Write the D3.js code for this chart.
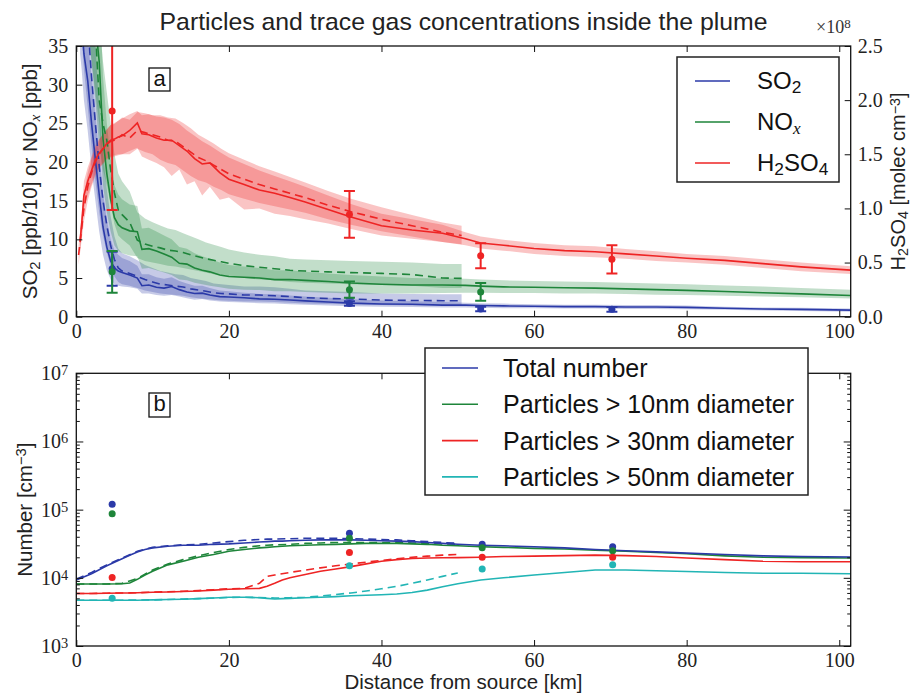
<!DOCTYPE html>
<html>
<head>
<meta charset="utf-8">
<script src="https://cdn.jsdelivr.net/npm/d3@7"></script>
<style>
	body { margin: 0; background: #fff; }
	svg { display: block; }
</style>
</head>
<body>
<svg id="chart" width="914" height="696"></svg>
<script>

// ---- Data: panel a (SO2 in ppb/10, NOx in ppb, H2SO4 in 1e8 molec cm-3) ----
var kmRun = [0.5, 0.7, 1, 1.5, 2, 2.5, 3, 3.5, 4, 4.5, 5, 5.5, 6, 7, 8, 8.6, 9.5, 10.5, 11.5, 12.5, 13.5, 14.5, 15.5, 16.5, 17.5, 18.8, 20, 22, 24, 26, 28, 30, 33, 36, 40, 44, 48, 51, 53, 56, 60, 64, 68, 72, 76, 80, 85, 90, 95, 101.5];
var kmAlt = [0.3, 1, 1.5, 2, 2.5, 3, 3.5, 4, 4.5, 5, 5.5, 6, 7, 8, 9, 10, 11, 12, 13, 14, 15, 16, 17, 18, 19, 20, 22, 24, 26, 28, 30, 33, 36, 40, 44, 48, 50.5];

var so2Run   = [42, 38, 34, 30.5, 25, 20.3, 15.8, 11.6, 9.0, 7.2, 6.3, 5.9, 5.7, 5.4, 5.0, 4.0, 4.1, 3.8, 3.7, 3.9, 3.5, 3.2, 3.0, 3.05, 2.8, 2.6, 2.55, 2.45, 2.3, 2.25, 2.15, 2.05, 1.9, 1.75, 1.65, 1.6, 1.5, 1.5, 1.45, 1.4, 1.35, 1.3, 1.3, 1.25, 1.25, 1.2, 1.1, 1.0, 0.95, 0.85];
var so2RunLo = [34, 32, 28, 24, 19, 15, 11, 8, 6, 4.8, 4.2, 4.0, 3.9, 3.8, 3.6, 3.0, 3.0, 2.8, 2.7, 2.8, 2.6, 2.4, 2.2, 2.3, 2.1, 1.95, 1.9, 1.85, 1.75, 1.7, 1.6, 1.55, 1.45, 1.35, 1.3, 1.25, 1.2, 1.2, 1.15, 1.1, 1.1, 1.05, 1.05, 1.0, 1.0, 0.95, 0.9, 0.8, 0.75, 0.65];
var so2RunHi = [56, 45, 40, 36, 31, 26, 21, 16, 12.5, 10, 8.6, 8.0, 7.6, 7.2, 6.6, 5.5, 5.5, 5.1, 4.9, 5.1, 4.6, 4.3, 4.0, 4.0, 3.7, 3.4, 3.3, 3.1, 2.95, 2.9, 2.75, 2.6, 2.45, 2.25, 2.1, 2.0, 1.9, 1.8, 1.75, 1.7, 1.6, 1.55, 1.55, 1.5, 1.5, 1.45, 1.3, 1.2, 1.15, 1.05];
var so2Alt   = [60, 45, 38, 31, 25, 19.5, 15, 11.8, 9.2, 7.4, 6.3, 5.9, 5.6, 5.2, 4.8, 4.5, 4.2, 4.1, 3.95, 3.85, 3.6, 3.45, 3.3, 3.1, 3.0, 2.95, 2.8, 2.8, 2.7, 2.6, 2.45, 2.35, 2.3, 2.15, 2.1, 2.07, 2.05];
var so2AltLo = [42, 32, 27, 22, 17.5, 13.5, 10.5, 8.3, 6.5, 5.2, 4.5, 4.2, 4.0, 3.7, 3.4, 3.2, 3.0, 2.9, 2.8, 2.7, 2.5, 2.4, 2.3, 2.2, 2.1, 2.05, 1.95, 1.95, 1.9, 1.8, 1.7, 1.65, 1.6, 1.5, 1.45, 1.45, 1.4];
var so2AltHi = [80, 62, 52, 43, 35, 27, 21, 16.5, 13, 10.4, 8.8, 8.2, 7.8, 7.3, 6.7, 6.3, 5.9, 5.7, 5.5, 5.4, 5.0, 4.8, 4.6, 4.3, 4.2, 4.1, 3.9, 3.9, 3.8, 3.6, 3.4, 3.3, 3.2, 3.0, 2.95, 2.9, 2.9];

var noxRun   = [60, 58, 55, 48, 42, 38, 33, 23, 18.5, 15.2, 12.8, 11.9, 11.5, 11.1, 11.0, 8.7, 8.8, 8.5, 8.1, 7.7, 6.9, 6.8, 6.3, 6.0, 5.8, 5.4, 5.2, 5.1, 5.0, 4.8, 4.8, 4.7, 4.55, 4.35, 4.2, 4.1, 4.1, 4.05, 3.95, 3.85, 3.8, 3.75, 3.7, 3.6, 3.5, 3.4, 3.25, 3.1, 2.95, 2.75];
var noxRunLo = [50, 47, 43, 38, 33, 29, 25, 17, 13.5, 11, 9.2, 8.5, 8.2, 7.9, 7.8, 6.2, 6.3, 6.0, 5.7, 5.4, 4.8, 4.7, 4.4, 4.2, 4.0, 3.8, 3.6, 3.5, 3.45, 3.3, 3.3, 3.2, 3.1, 3.0, 3.0, 3.0, 3.05, 3.1, 3.1, 3.05, 3.05, 3.0, 3.0, 2.95, 2.85, 2.8, 2.7, 2.6, 2.5, 2.35];
var noxRunHi = [80, 77, 70, 62, 55, 50, 45, 31, 25, 20.5, 17, 15.8, 15.2, 14.5, 14.3, 11.4, 11.5, 11.0, 10.5, 10.0, 9.0, 8.8, 8.2, 7.8, 7.5, 7.0, 6.7, 6.5, 6.3, 6.0, 6.0, 5.8, 5.6, 5.4, 5.2, 5.0, 4.95, 4.9, 4.8, 4.7, 4.6, 4.55, 4.5, 4.4, 4.3, 4.2, 4.05, 3.9, 3.7, 3.5];
var noxAlt   = [80, 60, 50, 43, 37, 28, 25, 22.8, 19, 16, 13.8, 13.2, 12.2, 9.9, 9.4, 9.1, 8.9, 8.6, 8.5, 8.3, 8.0, 7.75, 7.5, 7.3, 7.1, 6.9, 6.6, 6.4, 6.2, 6.0, 5.9, 5.8, 5.7, 5.6, 5.45, 5.0, 4.95];
var noxAltLo = [60, 45, 38, 33, 28, 22, 19, 17, 14.5, 12, 10.5, 10, 9.2, 7.6, 7.2, 7.0, 6.8, 6.6, 6.5, 6.3, 6.1, 5.9, 5.7, 5.5, 5.4, 5.2, 5.0, 4.8, 4.7, 4.5, 4.4, 4.3, 4.2, 4.1, 4.0, 3.7, 3.7];
var noxAltHi = [100, 78, 65, 56, 48, 38, 33, 29, 25, 21, 18.5, 17.5, 16.2, 13.5, 12.7, 12.2, 11.8, 11.4, 11.2, 10.8, 10.4, 10.0, 9.6, 9.3, 9.0, 8.7, 8.3, 8.0, 7.8, 7.5, 7.4, 7.3, 7.2, 7.1, 7.0, 6.8, 6.8];

var h2so4Run   = [0.7, 0.85, 1.12, 1.25, 1.35, 1.45, 1.51, 1.55, 1.6, 1.63, 1.64, 1.66, 1.67, 1.72, 1.79, 1.69, 1.68, 1.65, 1.63, 1.63, 1.58, 1.53, 1.46, 1.41, 1.42, 1.33, 1.27, 1.22, 1.17, 1.14, 1.1, 1.06, 0.99, 0.92, 0.84, 0.8, 0.77, 0.72, 0.68, 0.66, 0.63, 0.61, 0.6, 0.58, 0.56, 0.54, 0.52, 0.49, 0.46, 0.43];
var h2so4RunLo = [0.6, 0.75, 1.0, 1.12, 1.22, 1.32, 1.38, 1.42, 1.46, 1.48, 1.49, 1.5, 1.5, 1.53, 1.56, 1.48, 1.45, 1.42, 1.38, 1.30, 1.36, 1.22, 1.25, 1.12, 1.2, 1.08, 1.1, 0.99, 1.0, 0.95, 0.93, 0.9, 0.86, 0.81, 0.75, 0.72, 0.69, 0.66, 0.63, 0.61, 0.58, 0.56, 0.55, 0.535, 0.515, 0.5, 0.48, 0.45, 0.42, 0.395];
var h2so4RunHi = [0.8, 0.95, 1.25, 1.38, 1.48, 1.58, 1.64, 1.68, 1.73, 1.77, 1.79, 1.81, 1.83, 1.87, 1.9, 1.86, 1.87, 1.85, 1.84, 1.82, 1.78, 1.72, 1.67, 1.62, 1.58, 1.52, 1.47, 1.41, 1.35, 1.3, 1.25, 1.2, 1.12, 1.04, 0.95, 0.9, 0.85, 0.78, 0.74, 0.71, 0.68, 0.66, 0.65, 0.625, 0.605, 0.58, 0.56, 0.53, 0.5, 0.465];
var h2so4Alt   = [0.57, 1.0, 1.2, 1.33, 1.43, 1.5, 1.55, 1.59, 1.62, 1.63, 1.65, 1.68, 1.65, 1.72, 1.7, 1.68, 1.66, 1.63, 1.62, 1.57, 1.52, 1.47, 1.44, 1.4, 1.36, 1.32, 1.27, 1.22, 1.18, 1.14, 1.1, 1.03, 0.97, 0.9, 0.84, 0.78, 0.75];
var h2so4AltLo = [0.48, 0.88, 1.07, 1.2, 1.3, 1.37, 1.41, 1.45, 1.47, 1.48, 1.49, 1.5, 1.5, 1.55, 1.52, 1.5, 1.45, 1.42, 1.4, 1.35, 1.3, 1.26, 1.24, 1.2, 1.17, 1.13, 1.09, 1.05, 1.02, 0.99, 0.96, 0.9, 0.85, 0.79, 0.74, 0.69, 0.67];
var h2so4AltHi = [0.66, 1.12, 1.33, 1.46, 1.56, 1.63, 1.69, 1.73, 1.77, 1.78, 1.81, 1.84, 1.82, 1.89, 1.88, 1.86, 1.86, 1.84, 1.83, 1.79, 1.74, 1.68, 1.64, 1.6, 1.55, 1.51, 1.45, 1.39, 1.34, 1.29, 1.24, 1.16, 1.09, 1.01, 0.94, 0.87, 0.84];

// Measurements with error bars
var obsKm = [4.7, 35.8, 53, 70.2];
var so2Obs = [6.2, 1.7, 1.0, 0.95];
var so2Err = [2.2, 0.3, 0.3, 0.3];
var noxObs = [5.8, 3.5, 3.2, null];
var noxErr = [2.7, 1.05, 1.15, null];
var h2so4Obs = [1.9, 0.945, 0.563, 0.53];
var h2so4Err = [0.915, 0.216, 0.115, 0.13];

// ---- Data: panel b (number concentration, cm-3) ----
var kmB = [0, 2, 4, 6, 7, 8, 9, 10, 12, 14, 16, 18, 20, 22, 24, 25, 26, 27, 28, 30, 32, 34, 36, 38, 40, 42, 44, 46, 48, 50, 53, 56, 60, 64, 68, 72, 76, 80, 85, 90, 95, 101.5];
var kmBAlt = [0, 2, 4, 6, 8, 10, 12, 14, 16, 18, 20, 22, 24, 25, 26, 28, 30, 32, 34, 36, 38, 40, 42, 44, 46, 48, 50];

var totalRun = [9.3e3, 1.15e4, 1.5e4, 1.9e4, 2.15e4, 2.4e4, 2.6e4, 2.75e4, 2.9e4, 3.0e4, 3.0e4, 3.1e4, 3.15e4, 3.25e4, 3.35e4, 3.4e4, 3.45e4, 3.45e4, 3.5e4, 3.55e4, 3.6e4, 3.6e4, 3.6e4, 3.55e4, 3.5e4, 3.45e4, 3.4e4, 3.3e4, 3.2e4, 3.1e4, 3.0e4, 2.95e4, 2.85e4, 2.75e4, 2.6e4, 2.5e4, 2.4e4, 2.3e4, 2.2e4, 2.1e4, 2.05e4, 2.02e4];
var n10Run   = [8.1e3, 8.1e3, 8.1e3, 8.2e3, 8.4e3, 9.5e3, 1.1e4, 1.25e4, 1.55e4, 1.75e4, 2.0e4, 2.2e4, 2.45e4, 2.6e4, 2.75e4, 2.8e4, 2.85e4, 2.9e4, 2.95e4, 3.0e4, 3.05e4, 3.1e4, 3.15e4, 3.2e4, 3.2e4, 3.2e4, 3.15e4, 3.1e4, 3.0e4, 2.95e4, 2.85e4, 2.8e4, 2.7e4, 2.65e4, 2.55e4, 2.45e4, 2.35e4, 2.25e4, 2.1e4, 2.0e4, 1.98e4, 1.95e4];
var n30Run   = [5.9e3, 5.9e3, 5.95e3, 6.0e3, 6.0e3, 6.05e3, 6.1e3, 6.15e3, 6.2e3, 6.3e3, 6.4e3, 6.6e3, 6.8e3, 6.9e3, 7.0e3, 7.5e3, 8.3e3, 9.3e3, 1.0e4, 1.12e4, 1.25e4, 1.35e4, 1.46e4, 1.6e4, 1.75e4, 1.85e4, 1.92e4, 1.95e4, 1.97e4, 1.98e4, 2.0e4, 2.05e4, 2.08e4, 2.12e4, 2.15e4, 2.12e4, 2.05e4, 1.95e4, 1.85e4, 1.75e4, 1.72e4, 1.72e4];
var n50Run   = [4.7e3, 4.7e3, 4.7e3, 4.7e3, 4.7e3, 4.7e3, 4.72e3, 4.75e3, 4.8e3, 4.85e3, 4.95e3, 5.05e3, 5.2e3, 5.2e3, 5.1e3, 5.0e3, 4.9e3, 4.95e3, 5.0e3, 5.1e3, 5.2e3, 5.3e3, 5.45e3, 5.55e3, 5.65e3, 5.8e3, 6.1e3, 6.6e3, 7.4e3, 8.2e3, 9.3e3, 1.0e4, 1.1e4, 1.2e4, 1.3e4, 1.3e4, 1.27e4, 1.24e4, 1.2e4, 1.17e4, 1.17e4, 1.15e4];

var totalAlt = [9.5e3, 1.2e4, 1.55e4, 1.95e4, 2.45e4, 2.8e4, 2.95e4, 3.05e4, 3.1e4, 3.25e4, 3.4e4, 3.55e4, 3.65e4, 3.7e4, 3.7e4, 3.75e4, 3.8e4, 3.8e4, 3.8e4, 3.75e4, 3.7e4, 3.65e4, 3.6e4, 3.5e4, 3.4e4, 3.3e4, 3.2e4];
var n10Alt   = [8.1e3, 8.1e3, 8.1e3, 8.3e3, 9.8e3, 1.3e4, 1.6e4, 1.85e4, 2.1e4, 2.35e4, 2.6e4, 2.8e4, 2.95e4, 3.0e4, 3.05e4, 3.1e4, 3.2e4, 3.25e4, 3.3e4, 3.3e4, 3.3e4, 3.3e4, 3.3e4, 3.25e4, 3.2e4, 3.15e4, 3.1e4];
var n30Alt   = [5.9e3, 5.9e3, 5.95e3, 6.0e3, 6.05e3, 6.15e3, 6.25e3, 6.35e3, 6.5e3, 6.7e3, 6.9e3, 7.0e3, 8.3e3, 1.05e4, 1.1e4, 1.2e4, 1.3e4, 1.4e4, 1.5e4, 1.6e4, 1.7e4, 1.8e4, 1.9e4, 2.0e4, 2.08e4, 2.15e4, 2.2e4];
var n50Alt   = [4.7e3, 4.7e3, 4.7e3, 4.7e3, 4.72e3, 4.75e3, 4.8e3, 4.88e3, 4.95e3, 5.05e3, 5.15e3, 5.2e3, 5.15e3, 5.1e3, 5.05e3, 5.1e3, 5.2e3, 5.4e3, 5.7e3, 6.0e3, 6.4e3, 6.9e3, 7.5e3, 8.3e3, 9.3e3, 1.05e4, 1.18e4];

var obsKmB = [4.7, 35.8, 53.2, 70.3];
var totalObs = [1.2e5, 4.5e4, 3.1e4, 2.85e4];
var n10Obs   = [8.7e4, 3.8e4, 2.75e4, 2.5e4];
var n30Obs   = [1.01e4, 2.35e4, 2.0e4, 2.0e4];
var n50Obs   = [5.0e3, 1.5e4, 1.35e4, 1.55e4];

// Ticks and labels
var xTicks = [0, 20, 40, 60, 80, 100];
var leftTicks = [0, 5, 10, 15, 20, 25, 30, 35];
var rightTicks = [0, 0.5, 1.0, 1.5, 2.0, 2.5];
var decadeTicks = [1e3, 1e4, 1e5, 1e6, 1e7];
var minorTicks = [2, 3, 4, 5, 6, 7, 8, 9, 20, 30, 40, 50, 60, 70, 80, 90, 200, 300, 400, 500, 600, 700, 800, 900, 2000, 3000, 4000, 5000, 6000, 7000, 8000, 9000].map(function(m) { return m * 1e3; });
var gasNames = [[['SO'], ['2', 'sub']], [['NO'], ['x', 'subi']], [['H'], ['2', 'sub'], ['SO'], ['4', 'sub']]];
var sizeNames = ['Total number', 'Particles > 10nm diameter', 'Particles > 30nm diameter', 'Particles > 50nm diameter'];

// ---- UI ----
var blue = '#2b3aa8', green = '#1e853a', red = '#ee2424', cyan = '#22b5b5',
	serif = '"Liberation Serif", "DejaVu Serif", serif',
	sans = '"Liberation Sans", Arial, sans-serif',
	svg = d3.select('#chart'),
	X0 = 76.3, X1 = 850.7,
	aTop = 46, aBot = 316.7,
	bTop = 373.3, bBot = 646;

var x = d3.scaleLinear().domain([0, 101.5]).range([X0, X1]),
	yL = d3.scaleLinear().domain([0, 35]).range([aBot, aTop]),
	yR = d3.scaleLinear().domain([0, 2.5]).range([aBot, aTop]),
	yB = d3.scaleLog().domain([1e3, 1e7]).range([bBot, bTop]);

// Writes text with sub/superscript parts
function rich(sel, parts) {
	parts.forEach(function(p) {
		var t = sel.append('tspan').text(p[0]);
		if (p[1] === 'sub' || p[1] === 'subi') t.attr('baseline-shift', '-22%').attr('font-size', '72%');
		if (p[1] === 'subi') t.attr('font-style', 'italic').attr('font-family', serif);
		if (p[1] === 'sup') t.attr('baseline-shift', '38%').attr('font-size', '72%');
	});
	return sel;
}

function styleAxis(g) {
	g.attr('font-family', null).attr('font-size', null);
	g.select('.domain').remove();
	g.selectAll('.tick line').attr('stroke', '#111').attr('stroke-width', 1);
	g.selectAll('.tick text').attr('font-family', serif).attr('font-size', 20).attr('fill', '#222');
}

function zip(xs, ys, lo, hi) {
	return xs.map(function(k, i) {
		return { k: k, v: ys[i], lo: lo ? lo[i] : null, hi: hi ? hi[i] : null };
	});
}

// Clip paths
var defs = svg.append('defs');
defs.append('clipPath').attr('id', 'clipA').append('rect')
	.attr('x', X0).attr('y', aTop).attr('width', X1 - X0).attr('height', aBot - aTop);
defs.append('clipPath').attr('id', 'clipB').append('rect')
	.attr('x', X0).attr('y', bTop).attr('width', X1 - X0).attr('height', bBot - bTop);

// Title
svg.append('text').attr('x', (X0 + X1) / 2).attr('y', 30).attr('text-anchor', 'middle')
	.attr('font-family', sans).attr('font-size', 24.8).attr('fill', '#222')
	.text('Particles and trace gas concentrations inside the plume');

// ---- Panel a ----
var gA = svg.append('g').attr('clip-path', 'url(#clipA)');

function band(g, rows, y, color) {
	g.append('path').datum(rows)
		.attr('d', d3.area().x(function(d) { return x(d.k); })
			.y0(function(d) { return y(d.lo); }).y1(function(d) { return y(d.hi); }))
		.attr('fill', color).attr('fill-opacity', 0.27).attr('stroke', 'none');
}
function trace(g, rows, y, color, dashed) {
	g.append('path').datum(rows)
		.attr('d', d3.line().x(function(d) { return x(d.k); }).y(function(d) { return y(d.v); }))
		.attr('fill', 'none').attr('stroke', color).attr('stroke-width', 1.6)
		.attr('stroke-dasharray', dashed ? '8,5' : null);
}

var gases = [
	{ y: yL, color: blue, run: zip(kmRun, so2Run, so2RunLo, so2RunHi), alt: zip(kmAlt, so2Alt, so2AltLo, so2AltHi), obs: so2Obs, err: so2Err },
	{ y: yL, color: green, run: zip(kmRun, noxRun, noxRunLo, noxRunHi), alt: zip(kmAlt, noxAlt, noxAltLo, noxAltHi), obs: noxObs, err: noxErr },
	{ y: yR, color: red, run: zip(kmRun, h2so4Run, h2so4RunLo, h2so4RunHi), alt: zip(kmAlt, h2so4Alt, h2so4AltLo, h2so4AltHi), obs: h2so4Obs, err: h2so4Err }
];

gases.forEach(function(s) {
	band(gA, s.run, s.y, s.color);
	band(gA, s.alt, s.y, s.color);
});
gases.forEach(function(s) {
	trace(gA, s.alt, s.y, s.color, true);
	trace(gA, s.run, s.y, s.color, false);
});
// Error bars
gases.forEach(function(s) {
	obsKm.forEach(function(k, i) {
		if (s.obs[i] == null) return;
		var cx = x(k), top = s.y(s.obs[i] + s.err[i]), bot = s.y(s.obs[i] - s.err[i]),
			g = gA.append('g').attr('stroke', s.color).attr('stroke-width', 2);
		g.append('line').attr('x1', cx).attr('x2', cx).attr('y1', top).attr('y2', bot);
		g.append('line').attr('x1', cx - 5.5).attr('x2', cx + 5.5).attr('y1', top).attr('y2', top);
		g.append('line').attr('x1', cx - 5.5).attr('x2', cx + 5.5).attr('y1', bot).attr('y2', bot);
		gA.append('circle').attr('cx', cx).attr('cy', s.y(s.obs[i])).attr('r', 3.5).attr('fill', s.color);
	});
});

// Axes a
svg.append('g').attr('transform', 'translate(0,' + aBot + ')')
	.call(d3.axisBottom(x).tickValues(xTicks).tickSize(-6).tickPadding(7)).call(styleAxis);
svg.append('g').attr('transform', 'translate(0,' + aTop + ')')
	.call(d3.axisTop(x).tickValues(xTicks).tickSize(-6).tickFormat(function() { return ''; })).call(styleAxis);
svg.append('g').attr('transform', 'translate(' + X0 + ',0)')
	.call(d3.axisLeft(yL).tickValues(leftTicks).tickSize(-6).tickPadding(8)).call(styleAxis);
svg.append('g').attr('transform', 'translate(' + X1 + ',0)')
	.call(d3.axisRight(yR).tickValues(rightTicks).tickSize(-6).tickPadding(7).tickFormat(d3.format('.1f'))).call(styleAxis);
svg.append('rect').attr('x', X0).attr('y', aTop).attr('width', X1 - X0).attr('height', aBot - aTop)
	.attr('fill', 'none').attr('stroke', '#111').attr('stroke-width', 1.3);

rich(svg.append('text').attr('x', X1).attr('y', 33).attr('text-anchor', 'end')
	.attr('font-family', serif).attr('font-size', 18).attr('fill', '#333'), [['×10'], ['8', 'sup']]);

rich(svg.append('text').attr('transform', 'translate(37,' + (aTop + aBot) / 2 + ') rotate(-90)')
	.attr('text-anchor', 'middle').attr('font-family', sans).attr('font-size', 20.5).attr('fill', '#222'),
	[['SO'], ['2', 'sub'], [' [ppb/10] or NO'], ['x', 'subi'], [' [ppb]']]);
rich(svg.append('text').attr('transform', 'translate(905,' + (aTop + aBot) / 2 + ') rotate(-90)')
	.attr('text-anchor', 'middle').attr('font-family', sans).attr('font-size', 20).attr('fill', '#222'),
	[['H'], ['2', 'sub'], ['SO'], ['4', 'sub'], [' [molec cm'], ['−3', 'sup'], [']']]);

// Panel label a
svg.append('rect').attr('x', 149).attr('y', 68).attr('width', 21).attr('height', 23)
	.attr('fill', '#fff').attr('stroke', '#111').attr('stroke-width', 1.3);
svg.append('text').attr('x', 159.5).attr('y', 86).attr('text-anchor', 'middle')
	.attr('font-family', sans).attr('font-size', 22).attr('fill', '#111').text('a');

// Legend a
var legA = svg.append('g');
legA.append('rect').attr('x', 677).attr('y', 57).attr('width', 162).attr('height', 125)
	.attr('fill', '#fff').attr('stroke', '#222').attr('stroke-width', 1.5);
[blue, green, red].forEach(function(c, i) {
	var ly = 81 + i * 41;
	legA.append('line').attr('x1', 695).attr('x2', 730).attr('y1', ly).attr('y2', ly)
		.attr('stroke', c).attr('stroke-width', 1.6);
	rich(legA.append('text').attr('x', 757).attr('y', ly + 8).attr('font-family', sans)
		.attr('font-size', 24).attr('fill', '#111'), gasNames[i]);
});

// ---- Panel b ----
var gB = svg.append('g').attr('clip-path', 'url(#clipB)');
var sizes = [
	{ color: blue, run: zip(kmB, totalRun), alt: zip(kmBAlt, totalAlt), obs: totalObs },
	{ color: green, run: zip(kmB, n10Run), alt: zip(kmBAlt, n10Alt), obs: n10Obs },
	{ color: red, run: zip(kmB, n30Run), alt: zip(kmBAlt, n30Alt), obs: n30Obs },
	{ color: cyan, run: zip(kmB, n50Run), alt: zip(kmBAlt, n50Alt), obs: n50Obs }
];
sizes.slice().reverse().forEach(function(s) {
	trace(gB, s.alt, yB, s.color, true);
	trace(gB, s.run, yB, s.color, false);
});
sizes.forEach(function(s) {
	obsKmB.forEach(function(k, i) {
		gB.append('circle').attr('cx', x(k)).attr('cy', yB(s.obs[i])).attr('r', 3.5).attr('fill', s.color);
	});
});

// Axes b
svg.append('g').attr('transform', 'translate(0,' + bBot + ')')
	.call(d3.axisBottom(x).tickValues(xTicks).tickSize(-6).tickPadding(7)).call(styleAxis);
svg.append('g').attr('transform', 'translate(0,' + bTop + ')')
	.call(d3.axisTop(x).tickValues(xTicks).tickSize(-6).tickFormat(function() { return ''; })).call(styleAxis);
var yAxisB = svg.append('g').attr('transform', 'translate(' + X0 + ',0)')
	.call(d3.axisLeft(yB).tickValues(decadeTicks).tickSize(-7).tickPadding(8).tickFormat(function() { return ''; }))
	.call(styleAxis);
yAxisB.selectAll('.tick text').each(function(d) {
	rich(d3.select(this), [['10'], [String(Math.round(Math.log10(d))), 'sup']]);
});
svg.append('g').attr('transform', 'translate(' + X0 + ',0)')
	.call(d3.axisLeft(yB).tickValues(minorTicks).tickSize(-3.5).tickFormat(function() { return ''; })).call(styleAxis);
svg.append('g').attr('transform', 'translate(' + X1 + ',0)')
	.call(d3.axisRight(yB).tickValues(decadeTicks).tickSize(-7).tickFormat(function() { return ''; })).call(styleAxis);
svg.append('g').attr('transform', 'translate(' + X1 + ',0)')
	.call(d3.axisRight(yB).tickValues(minorTicks).tickSize(-3.5).tickFormat(function() { return ''; })).call(styleAxis);
svg.append('rect').attr('x', X0).attr('y', bTop).attr('width', X1 - X0).attr('height', bBot - bTop)
	.attr('fill', 'none').attr('stroke', '#111').attr('stroke-width', 1.3);

rich(svg.append('text').attr('transform', 'translate(32,' + (bTop + bBot) / 2 + ') rotate(-90)')
	.attr('text-anchor', 'middle').attr('font-family', sans).attr('font-size', 20.5).attr('fill', '#222'),
	[['Number [cm'], ['−3', 'sup'], [']']]);
svg.append('text').attr('x', (X0 + X1) / 2).attr('y', 689).attr('text-anchor', 'middle')
	.attr('font-family', sans).attr('font-size', 20.5).attr('fill', '#222').text('Distance from source [km]');

// Panel label b
svg.append('rect').attr('x', 149).attr('y', 393).attr('width', 21).attr('height', 24)
	.attr('fill', '#fff').attr('stroke', '#111').attr('stroke-width', 1.3);
svg.append('text').attr('x', 159.5).attr('y', 411).attr('text-anchor', 'middle')
	.attr('font-family', sans).attr('font-size', 22).attr('fill', '#111').text('b');

// Legend b
var legB = svg.append('g');
legB.append('rect').attr('x', 425).attr('y', 348).attr('width', 383).attr('height', 147)
	.attr('fill', '#fff').attr('stroke', '#222').attr('stroke-width', 1.5);
sizes.forEach(function(s, i) {
	var ly = 368 + i * 36.3;
	legB.append('line').attr('x1', 442).attr('x2', 478).attr('y1', ly).attr('y2', ly)
		.attr('stroke', s.color).attr('stroke-width', 1.6);
	legB.append('text').attr('x', 503).attr('y', ly + 9).attr('font-family', sans)
		.attr('font-size', 25).attr('fill', '#111').text(sizeNames[i]);
});

</script>
</body>
</html>
